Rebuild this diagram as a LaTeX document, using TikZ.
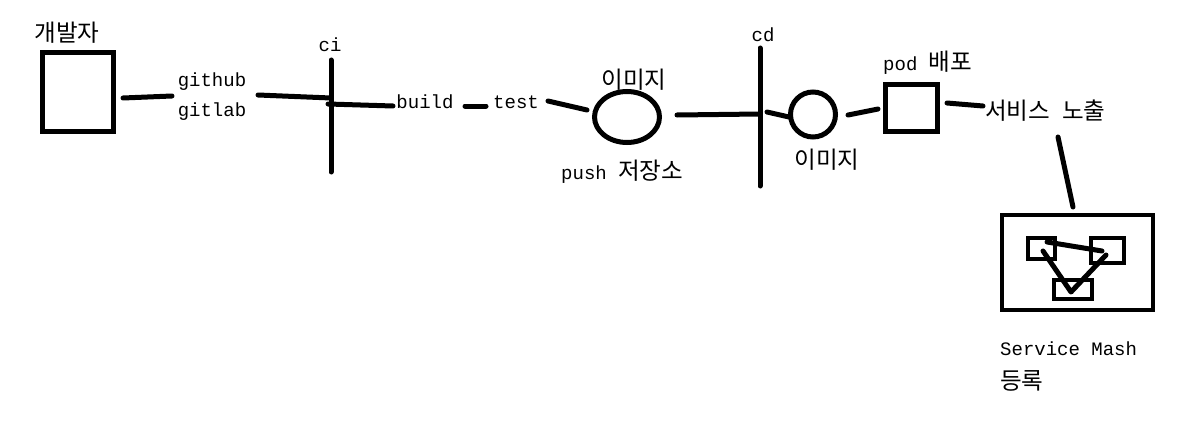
\documentclass[tikz,border=0pt]{standalone}
\usepackage{fontspec}
\setmainfont{Liberation Mono}
\newfontfamily\kr[Scale=1.24]{Noto Sans CJK KR}
\usetikzlibrary{shapes.geometric}
\tikzset{
  lbl/.style={font=\fontsize{19}{30}\selectfont, inner sep=0pt, align=center},
  conn/.style={line width=5pt, line cap=round},
  bar/.style={line width=5pt, line cap=round},
  bigbox/.style={draw, line width=5pt, inner sep=0pt, rectangle},
  smallbox/.style={draw, line width=4pt, inner sep=0pt, rectangle},
  ring/.style={draw, line width=5pt, inner sep=0pt, ellipse},
}
\begin{document}
\begin{tikzpicture}[x=1pt,y=-1pt]
\useasboundingbox (0,0) rectangle (1197,428);
% developer
\node[lbl] (devlbl) at (67,33) {\kr 개발자};
\node[bigbox, minimum width=71pt, minimum height=78pt] (dev) at (77.5,92) {};
\node[lbl] (git) at (212,97) {github\\gitlab};
\coordinate (d1) at (123,98);
\coordinate (d2) at (172,96);
\draw[conn] (d1) -- (d2);
% ci
\node[lbl] (cilbl) at (330,45) {ci};
\coordinate (ciT) at (331,60);
\coordinate (ciB) at (331,172);
\draw[bar] (ciT) -- (ciB);
\coordinate (g1) at (258,95);
\coordinate (g2) at (331,98);
\draw[conn] (g1) -- (g2);
\coordinate (c1) at (328,104);
\coordinate (c2) at (393,106);
\draw[conn] (c1) -- (c2);
\node[lbl] (build) at (425,102) {build};
\coordinate (b1) at (465,106);
\coordinate (b2) at (486,106);
\draw[conn] (b1) -- (b2);
\node[lbl] (test) at (516,102) {test};
\coordinate (t1) at (548,101);
\coordinate (t2) at (587,110);
\draw[conn] (t1) -- (t2);
% image registry
\node[ring, minimum width=65pt, minimum height=51pt] (img1) at (627,117) {};
\node[lbl] (img1lbl) at (634,80) {\kr 이미지};
\node[lbl, anchor=west] (push) at (561,172) {push\hspace{0.6em}\kr 저장소};
\coordinate (i1) at (677,115);
\coordinate (i2) at (760,114);
\draw[conn] (i1) -- (i2);
% cd
\node[lbl] (cdlbl) at (763,35) {cd};
\coordinate (cdT) at (760,48);
\coordinate (cdB) at (760,186);
\draw[bar] (cdT) -- (cdB);
\coordinate (e1) at (767,112);
\coordinate (e2) at (789,117);
\draw[conn] (e1) -- (e2);
\node[ring, minimum width=45pt, minimum height=45pt] (img2) at (813,114.5) {};
\node[lbl] (img2lbl) at (827,160) {\kr 이미지};
\coordinate (f1) at (848,115);
\coordinate (f2) at (878,109);
\draw[conn] (f1) -- (f2);
% pod
\node[bigbox, minimum width=52pt, minimum height=47pt] (pod) at (911.5,108) {};
\node[lbl, anchor=west] (podlbl) at (883,63) {pod\hspace{0.6em}\kr 배포};
\coordinate (p1) at (947,103);
\coordinate (p2) at (983,106);
\draw[conn] (p1) -- (p2);
\node[lbl, anchor=west] (svc) at (985,111) {\kr 서비스\hspace{0.5em}노출};
\coordinate (s1) at (1058,137);
\coordinate (s2) at (1073,207);
\draw[conn] (s1) -- (s2);
% service mesh
\node[smallbox, line width=4.5pt, minimum width=151pt, minimum height=95pt] (sm) at (1077.5,262.5) {};
\node[smallbox, minimum width=27pt, minimum height=21pt] (m1) at (1041.5,248.5) {};
\node[smallbox, minimum width=33pt, minimum height=25pt] (m2) at (1107.5,250.5) {};
\node[smallbox, minimum width=38pt, minimum height=19pt] (m3) at (1073,289.5) {};
\coordinate (q1) at (1047,242);
\coordinate (q2) at (1102,251);
\draw[conn] (q1) -- (q2);
\coordinate (v1) at (1043,251);
\coordinate (v2) at (1071,292);
\coordinate (v3) at (1106,255);
\draw[conn, line join=round] (v1) -- (v2) -- (v3);
\node[lbl, anchor=west] (smlbl) at (1000,349) {Service Mash};
\node[lbl, anchor=west] (reg) at (1000,381) {\kr 등록};
\end{tikzpicture}
\end{document}
